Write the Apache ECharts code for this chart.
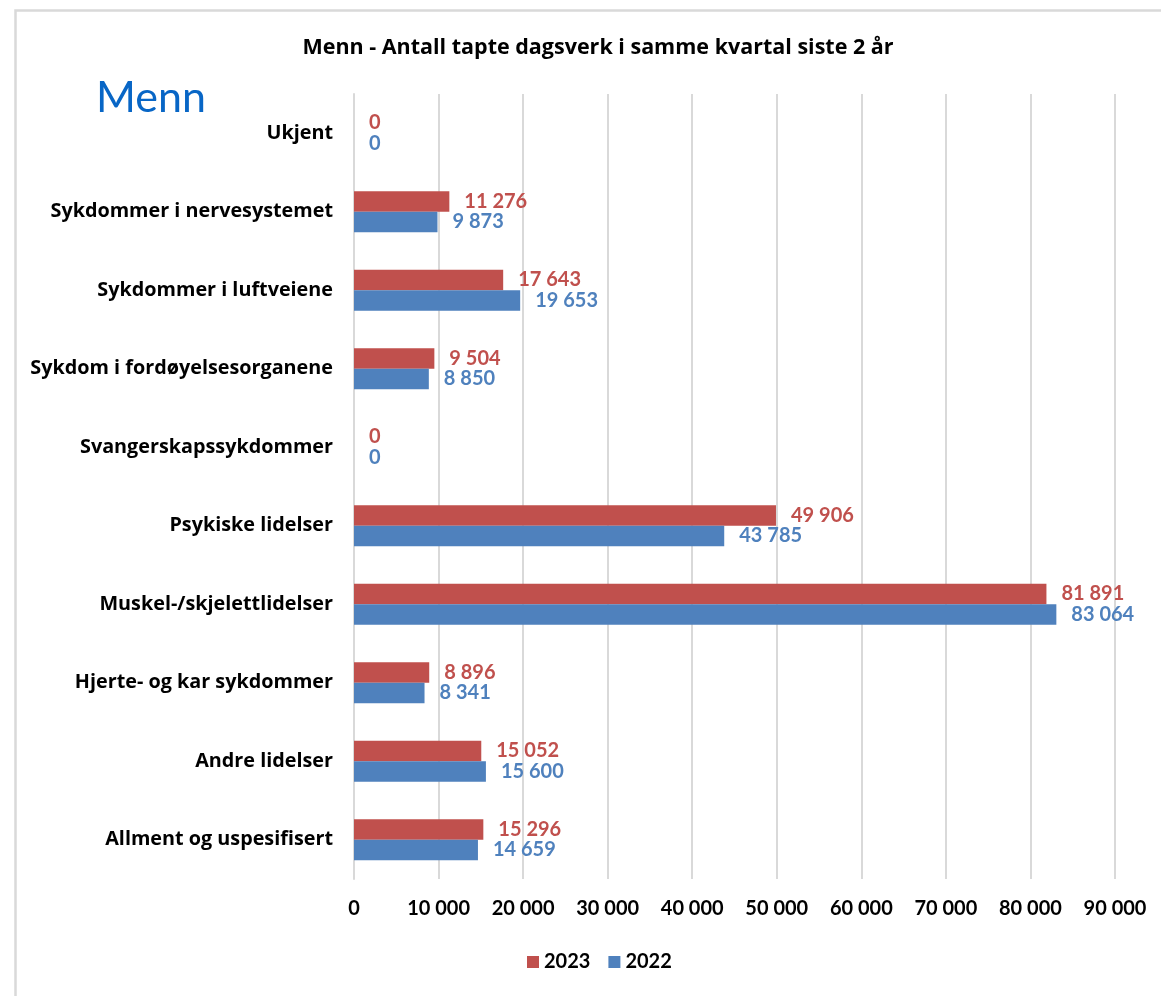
<!DOCTYPE html>
<html>
<head>
<meta charset="utf-8">
<script src="https://cdn.jsdelivr.net/npm/echarts@6/dist/echarts.min.js"></script>
<style>
  html, body { margin: 0; padding: 0; background: #fff; }
  #chart { width: 1161px; height: 996px; }
</style>
</head>
<body>
<div id="chart"></div>
<script>
const categories = [
  'Ukjent',
  'Sykdommer i nervesystemet',
  'Sykdommer i luftveiene',
  'Sykdom i fordøyelsesorganene',
  'Svangerskapssykdommer',
  'Psykiske lidelser',
  'Muskel-/skjelettlidelser',
  'Hjerte- og kar sykdommer',
  'Andre lidelser',
  'Allment og uspesifisert'
];
const values2023 = [0, 11276, 17643, 9504, 0, 49906, 81891, 8896, 15052, 15296];
const values2022 = [0, 9873, 19653, 8850, 0, 43785, 83064, 8341, 15600, 14659];

const red = '#C0504D';
const blue = '#4F81BD';
const font = 'Lato';
// wider face for the text labels, digits stay in Lato
const wideFont = '"Open Sans"';

// Excel style thousands separator: "11 276"
function fmt(v) {
  return String(v).replace(/\B(?=(\d{3})+(?!\d))/g, ' ');
}

const chart = echarts.init(document.getElementById('chart'));

chart.setOption({
  animation: false,
  textStyle: { fontFamily: font },
  title: {
    text: 'Menn - Antall tapte dagsverk i samme kvartal siste 2 år',
    left: 593,
    top: 32,
    textAlign: 'center',
    textStyle: { fontFamily: wideFont, fontSize: 21.5, fontWeight: 'bold', color: '#000' }
  },
  graphic: [
    {
      type: 'rect',
      shape: { x: 15.5, y: 10.5, width: 1300, height: 1200 },
      style: { fill: 'none', stroke: '#D9D9D9', lineWidth: 2.5 },
      silent: true
    },
    {
      type: 'text',
      x: 96,
      y: 98,
      style: {
        text: 'Menn',
        fontFamily: font,
        fontSize: 43,
        fill: '#0866C6',
        textVerticalAlign: 'middle'
      }
    }
  ],
  legend: {
    left: 522,
    top: 947,
    itemWidth: 12,
    itemHeight: 12,
    itemGap: 18,
    icon: 'rect',
    data: ['2023', '2022'],
    textStyle: { fontFamily: font, fontSize: 20, fontWeight: 'bold', color: '#000' }
  },
  grid: {
    left: 354,
    right: 46,
    top: 94,
    bottom: 117
  },
  xAxis: {
    type: 'value',
    min: 0,
    max: 90000,
    interval: 10000,
    axisLine: { show: false },
    axisTick: { show: false },
    splitLine: { lineStyle: { color: '#D9D9D9', width: 2 } },
    axisLabel: {
      margin: 20,
      fontFamily: font,
      fontSize: 20,
      fontWeight: 'bold',
      color: '#000',
      formatter: fmt
    }
  },
  yAxis: {
    type: 'category',
    inverse: true,
    data: categories,
    axisLine: { lineStyle: { color: '#D9D9D9', width: 2 } },
    axisTick: { show: false },
    axisLabel: {
      margin: 21,
      fontFamily: wideFont,
      fontSize: 19.8,
      fontWeight: 'bold',
      color: '#000'
    }
  },
  series: [
    {
      name: '2023',
      type: 'bar',
      data: values2023,
      barWidth: 20.5,
      barGap: '0%',
      itemStyle: { color: red },
      label: {
        show: true,
        position: 'right',
        distance: 15,
        fontFamily: font,
        fontSize: 20,
        fontWeight: 'bold',
        color: red,
        formatter: (p) => fmt(p.value)
      }
    },
    {
      name: '2022',
      type: 'bar',
      data: values2022,
      barWidth: 20.5,
      barGap: '0%',
      itemStyle: { color: blue },
      label: {
        show: true,
        position: 'right',
        distance: 15,
        fontFamily: font,
        fontSize: 20,
        fontWeight: 'bold',
        color: blue,
        formatter: (p) => fmt(p.value)
      }
    }
  ]
});
</script>
</body>
</html>
